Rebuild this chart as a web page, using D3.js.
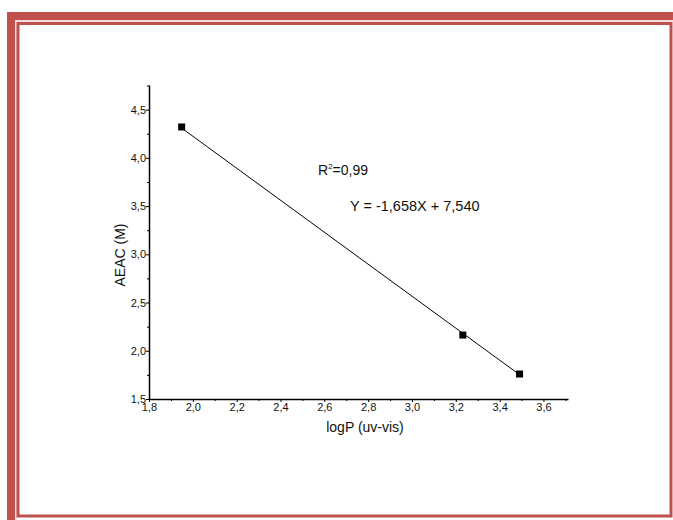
<!DOCTYPE html>
<html>
<head>
<meta charset="utf-8">
<script src="https://cdn.jsdelivr.net/npm/d3@7"></script>
<style>
  html, body { margin: 0; padding: 0; background: #fff; }
  svg { display: block; font-family: "Liberation Sans", Arial, sans-serif; }
</style>
</head>
<body>
<svg id="chart" width="673" height="520"></svg>
<script>
// Measured samples: partition coefficient vs. antioxidant capacity
const logP = [1.949, 3.232, 3.491];
const aeac = [4.32, 2.163, 1.759];

// Fitted regression
const slope = -1.658;
const intercept = 7.540;
const fitLabel = "Y = -1,658X + 7,540";
const r2Value = "=0,99";

// Axis ticks
const xTicks = [1.8, 2.0, 2.2, 2.4, 2.6, 2.8, 3.0, 3.2, 3.4, 3.6];
const xMinorTicks = [1.9, 2.1, 2.3, 2.5, 2.7, 2.9, 3.1, 3.3, 3.5, 3.7];
const yTicks = [1.5, 2.0, 2.5, 3.0, 3.5, 4.0, 4.5];
const yMinorTicks = [1.75, 2.25, 2.75, 3.25, 3.75, 4.25, 4.75];

const xTitle = "logP (uv-vis)";
const yTitle = "AEAC (M)";

const svg = d3.select("#chart");
const fmt = d => d.toFixed(1).replace(".", ",");

// Page frame: thick band along top and left, thin inner rule
const red = "#c0504d";
svg.append("rect").attr("x", 7).attr("y", 12).attr("width", 666).attr("height", 8).attr("fill", red);
svg.append("rect").attr("x", 7).attr("y", 12).attr("width", 8).attr("height", 508).attr("fill", red);
svg.append("rect").attr("x", 15).attr("y", 20).attr("width", 658).attr("height", 2).attr("fill", "#f2dcdb");
svg.append("rect").attr("x", 15).attr("y", 20).attr("width", 2).attr("height", 500).attr("fill", "#f2dcdb");
svg.append("rect").attr("x", 18).attr("y", 23.5).attr("width", 653).attr("height", 492.5)
  .attr("fill", "none").attr("stroke", red).attr("stroke-width", 3);

// Scales
const x = d3.scaleLinear().domain([1.8, 3.712]).range([149, 568]);
const y = d3.scaleLinear().domain([1.5, 4.755]).range([399, 85]);

// Axes
const xAxis = svg.append("g").attr("transform", `translate(0,${y(1.5)})`)
  .call(d3.axisBottom(x).tickValues(xTicks).tickFormat(fmt).tickSize(3).tickSizeOuter(0).tickPadding(1));
const xMinor = svg.append("g").attr("transform", `translate(0,${y(1.5)})`)
  .call(d3.axisBottom(x).tickValues(xMinorTicks).tickFormat("").tickSize(2).tickSizeOuter(0));
xMinor.select(".domain").remove();

const yAxis = svg.append("g").attr("transform", `translate(${x(1.8)},0)`)
  .call(d3.axisLeft(y).tickValues(yTicks).tickFormat(fmt).tickSize(3).tickSizeOuter(0).tickPadding(0));
const yMinor = svg.append("g").attr("transform", `translate(${x(1.8)},0)`)
  .call(d3.axisLeft(y).tickValues(yMinorTicks).tickFormat("").tickSize(2).tickSizeOuter(0));
yMinor.select(".domain").remove();

[xAxis, yAxis].forEach(g => {
  g.select(".domain").attr("stroke", "#000").attr("stroke-width", 1.5);
  g.selectAll("text").attr("font-size", 11).attr("fill", "#111")
    .attr("font-family", "'Liberation Sans', Arial, sans-serif");
});
[xAxis, yAxis, xMinor, yMinor].forEach(g => g.selectAll("line").attr("stroke", "#000"));

// Axis titles
svg.append("text").attr("x", 365).attr("y", 432).attr("text-anchor", "middle")
  .attr("font-size", 14).attr("fill", "#111").text(xTitle);
svg.append("text").attr("transform", `translate(125,255) rotate(-90)`).attr("text-anchor", "middle")
  .attr("font-size", 14).attr("fill", "#111").text(yTitle);

// Regression line over the sampled range
const x0 = d3.min(logP), x1 = d3.max(logP);
svg.append("line")
  .attr("x1", x(x0)).attr("y1", y(slope * x0 + intercept))
  .attr("x2", x(x1)).attr("y2", y(slope * x1 + intercept))
  .attr("stroke", "#000").attr("stroke-width", 1);

// Data markers
const s = 7;
svg.selectAll("rect.pt").data(logP).enter().append("rect").attr("class", "pt")
  .attr("x", (d) => x(d) - s / 2).attr("y", (d, i) => y(aeac[i]) - s / 2)
  .attr("width", s).attr("height", s).attr("fill", "#000");

// Fit annotations
const r2 = svg.append("text").attr("x", 318).attr("y", 175).attr("font-size", 14).attr("fill", "#111");
r2.append("tspan").text("R");
r2.append("tspan").attr("font-size", 8).attr("dy", -6).text("2");
r2.append("tspan").attr("dy", 6).text(r2Value);
svg.append("text").attr("x", 350).attr("y", 211).attr("font-size", 14.5).attr("fill", "#111").text(fitLabel);
</script>
</body>
</html>
